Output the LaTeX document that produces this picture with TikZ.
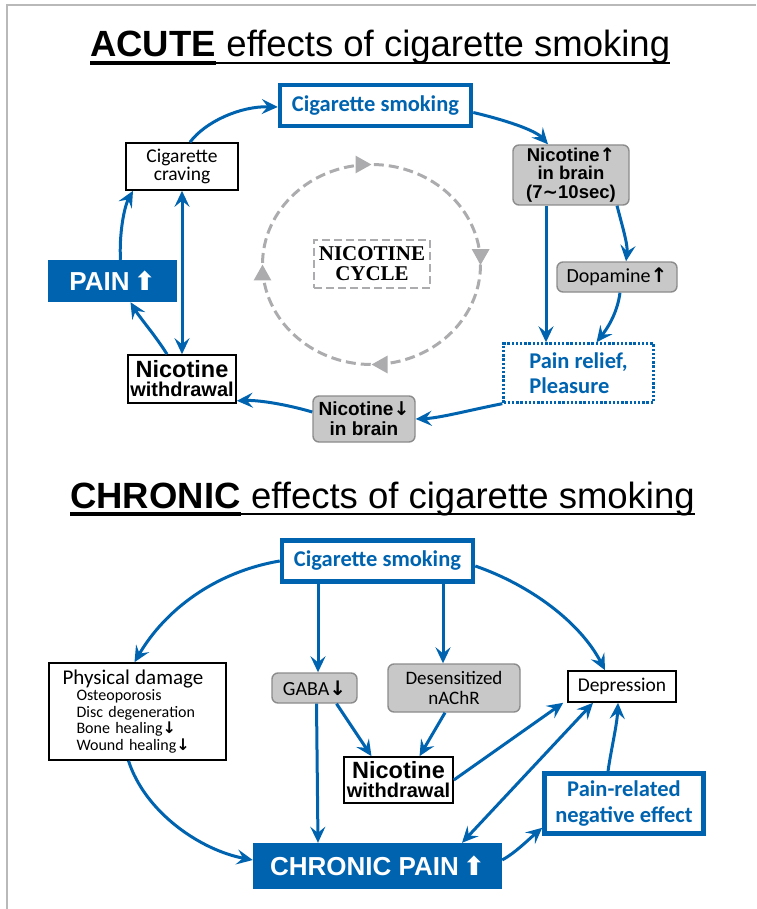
\documentclass[tikz,border=0pt]{standalone}
\usepackage{fontspec}
\setmainfont{Carlito}
\newfontfamily\arialf{Liberation Sans}
\newfontfamily\timesf{Liberation Serif}
\newfontfamily\symf{DejaVu Sans}
\usetikzlibrary{arrows.meta,decorations.markings}

\definecolor{nblue}{RGB}{0,99,175}
\definecolor{ngray}{RGB}{200,200,201}
\definecolor{nline}{RGB}{140,140,140}
\definecolor{ndash}{RGB}{172,172,174}

\newcommand{\uparr}{{\symf\bfseries ↑}}
\newcommand{\dnarr}{{\symf\bfseries ↓}}
\newcommand{\blockup}{{\symf ⬆}}
\newcommand{\fs}[1]{\fontsize{#1}{#1}\selectfont}

\tikzset{bluetip/.tip={Stealth[length=16pt,width=15pt,inset=6pt]}}

\begin{document}
\begin{tikzpicture}[x=1pt,y=-1pt,
  smokebox/.style={draw=nblue,line width=4.5pt,text=nblue,font=\bfseries\fs{22.5},
    minimum width=191,minimum height=41,inner sep=0},
  greybox/.style={draw=nline,fill=ngray,line width=1.4pt,rounded corners=6pt,inner sep=0},
  blackbox/.style={draw=black,line width=1.6pt,fill=white,inner sep=0},
  bluebox/.style={fill=nblue,text=white,inner sep=0,font=\arialf\bfseries\fs{26}},
  arr/.style={draw=nblue,line width=3pt,-bluetip},
  arrs/.style={draw=nblue,line width=3pt,bluetip-bluetip},
]
  \useasboundingbox (0,0) rectangle (756,909);
  \draw[gray!55,line width=1.5pt] (7,909) -- (7,5) -- (756,5);

  \node (t1a) [anchor=base west,inner sep=0,font=\arialf\bfseries\fs{36.5}] at (90,57) {ACUTE};
  \node (t1b) [anchor=base west,inner sep=0,font=\arialf\fs{36.5}] at (t1a.base east) {\ effects of cigarette smoking};
  \draw[line width=3.2pt] ([yshift=-6pt]t1a.base west) -- ([yshift=-6pt]t1a.base east);
  \draw[line width=2pt] ([yshift=-6pt]t1b.base west) -- ([yshift=-6pt]t1b.base east);

  \node (smk) [smokebox] at (375.5,105.5) {Cigarette smoking};
  \node (nup) [greybox,minimum width=116,minimum height=60,align=center,
    font=\arialf\bfseries\fontsize{18.5}{18.5}\selectfont] at (571,175)
    {Nicotine\uparr\\in brain\\(7{\symf ∼}10sec)};
  \node (dopa) [greybox,minimum width=120,minimum height=30,font=\fs{20}] at (617,277) {Dopamine\uparr};
  \node (rel) [draw=nblue,line width=2.4pt,dash pattern=on 2.4pt off 1.8pt,minimum width=150,minimum height=59,
    align=left,text=nblue,font=\bfseries\fontsize{22.5}{25}\selectfont,inner sep=0] at (578.5,373)
    {Pain relief,\\Pleasure};
  \node (ndn) [greybox,minimum width=102,minimum height=46,align=center,
    font=\arialf\bfseries\fontsize{19}{20}\selectfont] at (364,419) {Nicotine\dnarr\\in brain};
  \node (wd) [blackbox,minimum width=108,minimum height=48,align=center,
    font=\arialf\bfseries\fontsize{20}{19}\selectfont] at (182,379)
    {{\fs{23.5}Nicotine}\\withdrawal};
  \node (pain) [bluebox,minimum width=129,minimum height=42] at (112.5,281) {PAIN\,\blockup};
  \node (crv) [blackbox,minimum width=112,minimum height=47,align=center,
    font=\fontsize{19.5}{18}\selectfont] at (182,166.5) {Cigarette\\craving};
  \node (cyc) [draw=ndash,line width=2.6pt,dash pattern=on 8pt off 4pt,minimum width=116,minimum height=48,
    align=center,inner sep=0,font=\timesf\bfseries\fontsize{21}{20}\selectfont] at (372,264) {NICOTINE\\CYCLE};

  \draw[ndash,line width=3pt,dash pattern=on 10pt off 5pt,
    postaction={decorate,decoration={markings,
      mark=at position 0.001 with {\arrow[solid]{Triangle[length=16pt,width=17pt]}},
      mark=at position 0.25 with {\arrow[solid]{Triangle[length=16pt,width=17pt]}},
      mark=at position 0.5 with {\arrow[solid]{Triangle[length=16pt,width=17pt]}},
      mark=at position 0.75 with {\arrow[solid]{Triangle[length=16pt,width=17pt]}}}}]
    (371.5,264.5) ellipse [x radius=109,y radius=100];

  \draw[arr] ([xshift=8pt]crv.north) .. controls (205,122) and (240,106) .. ([yshift=-1.5pt]smk.west);
  \draw[arr] ([yshift=-7pt]smk.east) .. controls (505,120) and (535,130) .. ([xshift=-23pt]nup.north);
  \draw[arr] ([xshift=-25pt]nup.south) -- ([xshift=-32.5pt]rel.north);
  \draw[arr] ([xshift=46pt]nup.south) .. controls (622,225) and (628,245) .. ([xshift=9pt]dopa.north);
  \draw[arr] ([xshift=3pt]dopa.south) .. controls (617,315) and (606,330) .. ([xshift=18pt]rel.north);
  \draw[arr] (rel.south west) .. controls (470,410) and (440,418) .. (ndn.east);
  \draw[arr] ([yshift=7pt]ndn.west) .. controls (285,404) and (258,400) .. ([yshift=3pt]wd.south east);
  \draw[arr] ([xshift=-15pt]wd.north) .. controls (155,335) and (140,318) .. ([xshift=18pt]pain.south);
  \draw[arr] ([xshift=8pt]pain.north) .. controls (119,235) and (124,207) .. ([xshift=-49pt]crv.south);
  \draw[arrs] (wd.north) -- (crv.south);

  \node (t2a) [anchor=base west,inner sep=0,font=\arialf\bfseries\fs{36.5}] at (70,508) {CHRONIC};
  \node (t2b) [anchor=base west,inner sep=0,font=\arialf\fs{36.5}] at (t2a.base east) {\ effects of cigarette smoking};
  \draw[line width=3.2pt] ([yshift=-6pt]t2a.base west) -- ([yshift=-6pt]t2a.base east);
  \draw[line width=2pt] ([yshift=-6pt]t2b.base west) -- ([yshift=-6pt]t2b.base east);

  \node (smk2) [smokebox] at (377.5,561) {Cigarette smoking};
  \node (phys) [blackbox,minimum width=177,minimum height=97,text width=150,align=left,
    font=\fontsize{16}{16.5}\selectfont] at (137.5,711.5)
    {{\fontsize{21}{21}\selectfont Physical damage}\\
     \hspace*{14pt}Osteoporosis\\
     \hspace*{14pt}Disc degeneration\\
     \hspace*{14pt}Bone healing\dnarr\\
     \hspace*{14pt}Wound healing\dnarr};
  \node (gaba) [greybox,minimum width=85,minimum height=30,font=\fs{20}] at (314.5,688) {GABA\dnarr};
  \node (des) [greybox,minimum width=132,minimum height=48,align=center,
    font=\fontsize{19}{20}\selectfont] at (454,688) {Desensitized\\nAChR};
  \node (dep) [blackbox,minimum width=108,minimum height=31,font=\fs{19.5}] at (622,686.5) {Depression};
  \node (wd2) [blackbox,minimum width=109,minimum height=46,align=center,
    font=\arialf\bfseries\fontsize{20}{19}\selectfont] at (398.5,780)
    {{\fs{23.5}Nicotine}\\withdrawal};
  \node (prl) [draw=nblue,line width=4.5pt,minimum width=159,minimum height=60,align=center,text=nblue,
    inner sep=0,font=\bfseries\fontsize{22.5}{26}\selectfont] at (624,803.5) {Pain-related\\negative effect};
  \node (chr) [bluebox,minimum width=249,minimum height=46] at (377.5,866) {CHRONIC PAIN\,\blockup};

  \draw[arr] (smk2.west) .. controls (215,572) and (165,610) .. ([xshift=-3pt]phys.north);
  \draw[arr] ([xshift=-59.5pt]smk2.south) -- ([xshift=3.5pt]gaba.north);
  \draw[arr] ([xshift=65.5pt]smk2.south) -- ([xshift=-11pt]des.north);
  \draw[arr] ([yshift=-5pt]smk2.east) .. controls (530,585) and (580,622) .. ([xshift=-17pt]dep.north);
  \draw[arr] ([xshift=2pt]gaba.south) -- ([xshift=-59.5pt]chr.north);
  \draw[arr] ([xshift=22pt]gaba.south) -- ([xshift=-27pt]wd2.north);
  \draw[arr] ([xshift=-9pt]des.south) -- ([xshift=21pt]wd2.north);
  \draw[arr] (wd2.east) -- ([xshift=-4pt]dep.south west);
  \draw[arrs] ([xshift=-29pt]dep.south) -- ([xshift=84.5pt]chr.north);
  \draw[arr] ([xshift=-16pt]prl.north) .. controls (611,750) and (617,725) .. ([xshift=-4pt]dep.south);
  \draw[arr] ([yshift=6pt]chr.east) .. controls (515,853) and (528,840) .. ([yshift=8pt]prl.south west);
  \draw[arr] ([xshift=-9pt]phys.south) .. controls (145,812) and (200,850) .. ([yshift=6pt]chr.west);
\end{tikzpicture}
\end{document}
